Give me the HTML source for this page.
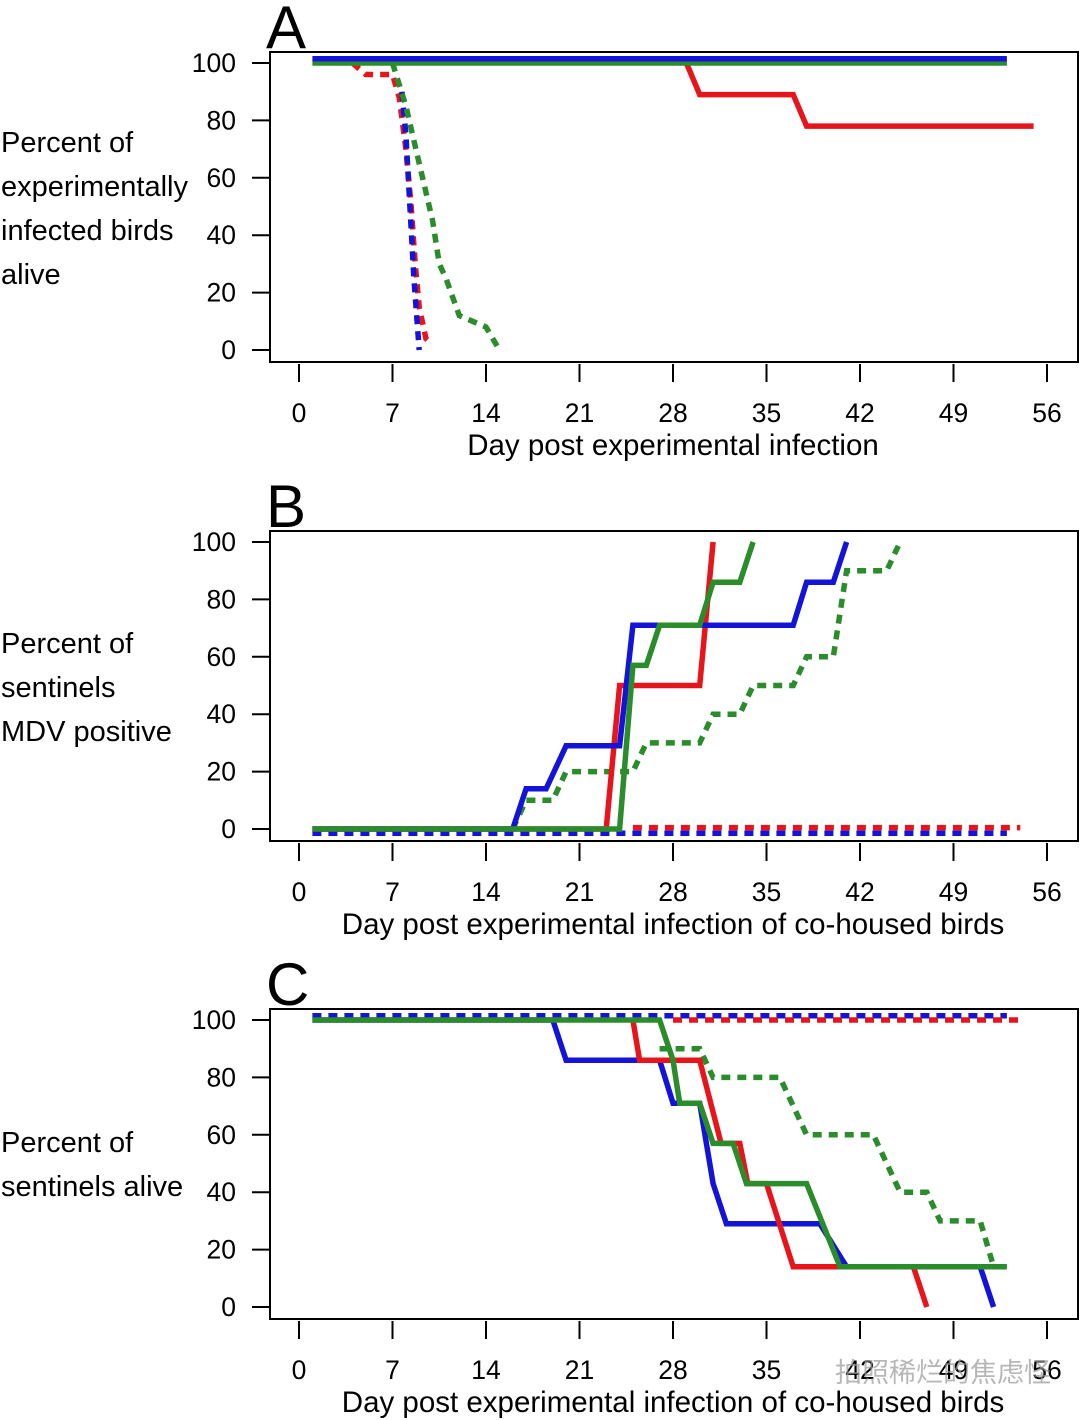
<!DOCTYPE html>
<html><head><meta charset="utf-8">
<style>
html,body{margin:0;padding:0;background:#fff;}
svg{display:block;font-family:"Liberation Sans","Noto Sans CJK SC",sans-serif;}
</style></head>
<body>
<svg id="fig" width="1080" height="1420" viewBox="0 0 1080 1420" xmlns="http://www.w3.org/2000/svg"></svg>
<script>
const xTicks=[0,7,14,21,28,35,42,49,56];
const yTicks=[0,20,40,60,80,100];
const panelLetters=["A","B","C"];
const xTitles=["Day post experimental infection","Day post experimental infection of co-housed birds","Day post experimental infection of co-housed birds"];
const yTitles=[["Percent of","experimentally","infected birds","alive"],["Percent of","sentinels","MDV positive"],["Percent of","sentinels alive"]];
// Panel A series [day, percent]
const aBlueSolid=[[1,101.5],[53,101.5]];
const aGreenSolid=[[1,100],[53,100]];
const aRedSolid=[[29,100],[30,89],[37,89],[38,78],[55,78]];
const aRedDash=[[4,100],[5,96],[7,96],[7.5,88],[8,70],[8.4,50],[8.7,30],[9,15],[9.5,4],[10,2]];
const aBlueDash=[[7.7,90],[8,75],[8.3,50],[8.6,25],[9,0]];
const aGreenDash=[[7,100],[8,85],[9,65],[10,45],[10.5,30],[11,25],[12,12],[13,10],[14,8],[15,0]];
// Panel B
const bRedSolid=[[1,0],[23,0],[24,50],[30,50],[31,100]];
const bBlueSolid=[[1,0],[16,0],[17,14],[18.5,14],[20,29],[24,29],[25,71],[37,71],[38,86],[40,86],[41,100]];
const bGreenSolid=[[1,0],[24,0],[25,57],[26,57],[27,71],[30,71],[31,86],[33,86],[34,100]];
const bGreenDash=[[16,0],[17,10],[19,10],[20,20],[25,20],[26,30],[30,30],[31,40],[33,40],[34,50],[37,50],[38,60],[40,60],[41,90],[44,90],[45,100]];
const bRedDash=[[25,0.5],[54,0.5]];
const bBlueDash=[[1,-1.5],[53,-1.5]];
// Panel C
const cBlueDash=[[1,101.5],[53,101.5]];
const cRedDash=[[28,100],[54,100]];
const cGreenDash=[[27,90],[30,90],[31,80],[36,80],[38,60],[43,60],[45,40],[47,40],[48,30],[51,30],[52,14]];
const cBlueSolid=[[1,100],[19,100],[20,86],[27,86],[28,71],[30,71],[31,43],[32,29],[39,29],[41,14],[51,14],[52,0]];
const cRedSolid=[[25,100],[25.5,86],[30,86],[31.6,57],[33,57],[33.6,43],[35,43],[37,14],[46,14],[47,0]];
const cGreenSolid=[[1,100],[27,100],[28,86],[28.5,71],[30,71],[31,57],[32.5,57],[33.5,43],[38,43],[40.5,14],[53,14]];

const panels=[
 {top:52,series:[[aRedDash,"red",1,"a-red-dashed"],[aBlueDash,"blue",1,"a-blue-dashed"],[aGreenDash,"green",1,"a-green-dashed"],[aRedSolid,"red",0,"a-red-solid"],[aGreenSolid,"green",0,"a-green-solid"],[aBlueSolid,"blue",0,"a-blue-solid"]]},
 {top:531,series:[[bRedDash,"red",1,"b-red-dashed"],[bBlueDash,"blue",1,"b-blue-dashed"],[bGreenDash,"green",1,"b-green-dashed"],[bRedSolid,"red",0,"b-red-solid"],[bBlueSolid,"blue",0,"b-blue-solid"],[bGreenSolid,"green",0,"b-green-solid"]]},
 {top:1009,series:[[cBlueDash,"blue",1,"c-blue-dashed"],[cRedDash,"red",1,"c-red-dashed"],[cGreenDash,"green",1,"c-green-dashed"],[cBlueSolid,"blue",0,"c-blue-solid"],[cRedSolid,"red",0,"c-red-solid"],[cGreenSolid,"green",0,"c-green-solid"]]}
];
const colors={red:"#e8141c",blue:"#1414d8",green:"#2a8c2a"};
const svg=document.getElementById("fig");
const NS="http://www.w3.org/2000/svg";
function mk(tag,attrs,parent){const e=document.createElementNS(NS,tag);for(const k in attrs)e.setAttribute(k,attrs[k]);parent.appendChild(e);return e;}
const xScale=d=>299+d*(1047-299)/56;
panels.forEach((p,i)=>{
  const g=mk("g",{},svg);
  
  
  const y0=p.top+298, y100=p.top+11;
  const yScale=v=>y0-v*(y0-y100)/100;
  const box=mk("rect",{x:270,y:p.top,width:808,height:310,fill:"none",stroke:"#000","stroke-width":2},g);
  
  
  const L=mk("text",{x:266,y:p.top-4,"font-size":60},g);L.textContent=panelLetters[i];
  
  
  yTicks.forEach(v=>{
    const y=yScale(v);
    const t=mk("line",{x1:252,x2:270,y1:y,y2:y,stroke:"#000","stroke-width":2},g);
    
    
    const tx=mk("text",{x:236,y:y+9,"font-size":26.5,"text-anchor":"end"},g);tx.textContent=v;
    
    
  });
  xTicks.forEach(d=>{
    const x=xScale(d);
    const t=mk("line",{x1:x,x2:x,y1:p.top+312,y2:p.top+330,stroke:"#000","stroke-width":2},g);
    
    
    const tx=mk("text",{x:x,y:p.top+370,"font-size":26.5,"text-anchor":"middle"},g);tx.textContent=d;
    
    
  });
  const xt=mk("text",{x:673,y:p.top+403,"font-size":29.5,"text-anchor":"middle"},g);xt.textContent=xTitles[i];
  
  
  const yt=mk("text",{x:1,"font-size":29},g);
  
  
  yTitles[i].forEach((s,k)=>{const ts=mk("tspan",{x:1,y:(i==0?p.top+100:i==1?p.top+122:p.top+143)+k*44},yt);ts.textContent=s;});
  p.series.forEach(s=>{
    const pts=s[0].map(q=>xScale(q[0]).toFixed(1)+","+yScale(q[1]).toFixed(1)).join(" ");
    const a={points:pts,fill:"none",stroke:colors[s[1]],"stroke-width":5.5,"stroke-linejoin":"miter"};
    if(s[2])a["stroke-dasharray"]="9,7";
    const pl=mk("polyline",a,g);
    
    
  });
});
const wm=mk("text",{x:835,y:1382,"font-size":27,fill:"#999","fill-opacity":0.7},svg);wm.textContent="拍照稀烂的焦虑怪";


</script>
</body></html>
